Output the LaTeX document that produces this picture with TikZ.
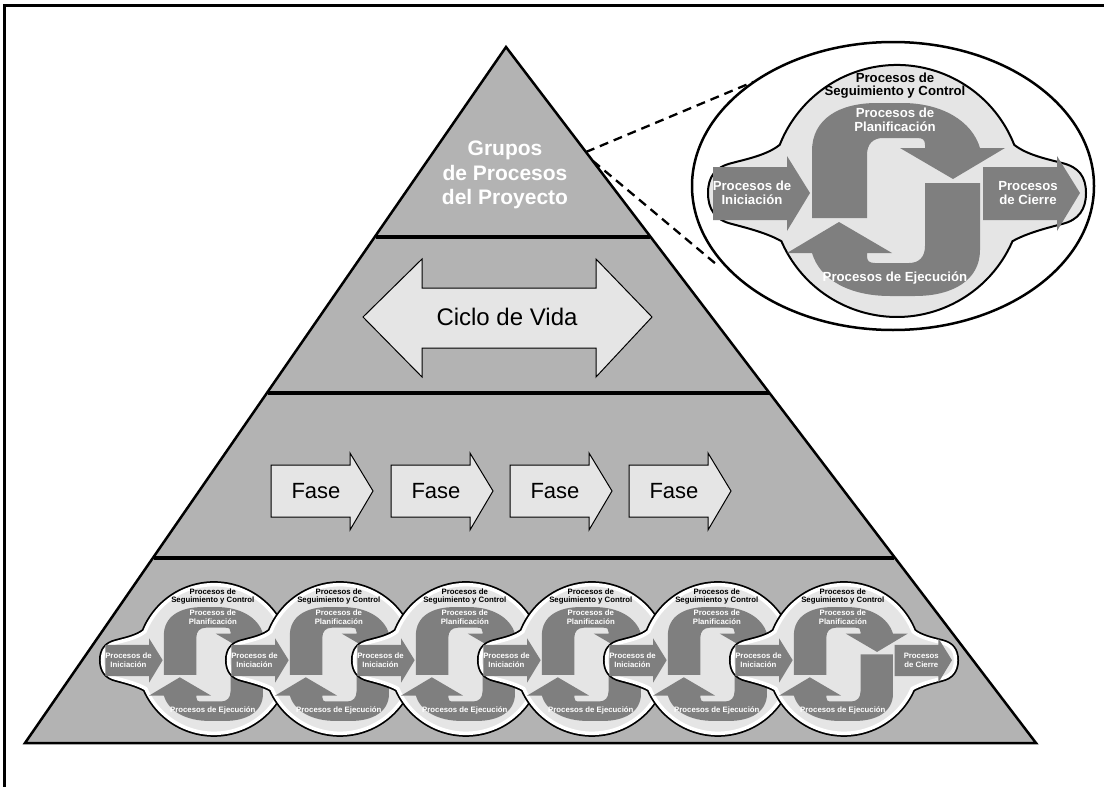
\documentclass[tikz,border=0pt]{standalone}
\usepackage{fontspec}
\setmainfont{Liberation Sans}
\definecolor{pyrgray}{RGB}{179,179,179}
\definecolor{litegray}{RGB}{229,229,229}
\definecolor{arrowgray}{RGB}{127,127,127}
\tikzset{
 pyr/.style={fill=pyrgray, draw=black, line width=2.5pt, line join=miter},
 bandline/.style={line width=4.5pt, draw=black},
 litearrow/.style={fill=litegray, draw=black, line width=1pt, line join=miter},
 toptext/.style={text=white, font=\bfseries\fontsize{21}{24.5}\selectfont, align=center, inner sep=0pt},
 bigtext/.style={font=\fontsize{24}{28}\selectfont, inner sep=0pt},
 fasetext/.style={font=\fontsize{22}{26}\selectfont, inner sep=0pt},
 segtext/.style={text=black, font=\bfseries\fontsize{13.2}{13.5}\selectfont, align=center, inner sep=0pt},
 whtext/.style={text=white, font=\bfseries\fontsize{13.2}{14.5}\selectfont, align=center, inner sep=0pt},
 dashline/.style={line width=2.3pt, dash pattern=on 9pt off 6pt},
 cyclearrow/.style={fill=arrowgray},
 framestyle/.style={line width=3pt, draw=black},
 zoomell/.style={fill=white, draw=black, line width=2.5pt},
}
\def\blobpath{(117.2,-46.2) arc[start angle=338.5, end angle=201.5, radius=126]
 .. controls (-130,-36) and (-150,-32) .. (-165,-28)
 .. controls (-182,-24) and (-189,-14) .. (-189,2)
 .. controls (-189,18) and (-182,29) .. (-165,33)
 .. controls (-150,37) and (-130,42) .. (-115.6,50.2)
 arc[start angle=156.5, end angle=23.5, radius=126]
 .. controls (130,42) and (150,37) .. (165,33)
 .. controls (182,29) and (189,18) .. (189,2)
 .. controls (189,-14) and (182,-24) .. (165,-28)
 .. controls (150,-32) and (130,-36) .. (117.2,-46.2) -- cycle}
\def\planpath{(-85,27) -- (-85,-40) .. controls (-85,-72) and (-58,-88) .. (-20,-88)
 -- (5,-88) .. controls (45,-88) and (75,-70) .. (83,-43) -- (108,-43) -- (56,-12)
 -- (3,-43) -- (28,-43) -- (28,-46) .. controls (28,-51) and (26,-53) .. (20,-53)
 -- (-14,-53) .. controls (-24,-53) and (-30,-47) .. (-30,-36) -- (-30,27) -- cycle}
\def\ejepath{(83,-8) -- (83,59) .. controls (83,89) and (56,105) .. (18,105)
 -- (-7,105) .. controls (-47,105) and (-77,89) .. (-85,62) -- (-110,62) -- (-58,31)
 -- (-5,62) -- (-30,62) -- (-30,65) .. controls (-30,70) and (-28,72) .. (-22,72)
 -- (12,72) .. controls (22,72) and (28,66) .. (28,55) -- (28,-8) -- cycle}
\def\inipath{(-184,-24) -- (-110,-24) -- (-110,-35) -- (-87,2) -- (-110,40) -- (-110,29) -- (-184,29) -- cycle}
\def\ciepath{(86,-24) -- (160,-24) -- (160,-35) -- (183,2) -- (160,40) -- (160,29) -- (86,29) -- cycle}
% #1 name prefix, #2 centre, #3 scale, #4 white ring (1/0), #5 closing arrow (1/0)
\newcommand\cyclegfx[5]{%
 \begin{scope}[shift={#2}, scale=#3, every node/.append style={transform shape}]
  \ifnum#4=1
   \draw[line width=7pt] \blobpath;
   \draw[line width=3.5pt, draw=white, fill=litegray] \blobpath;
  \else
   \draw[line width=2pt, fill=litegray] \blobpath;
  \fi
  \fill[cyclearrow] \planpath;
  \fill[cyclearrow] \ejepath;
  \fill[cyclearrow] \inipath;
  \ifnum#5=1
   \fill[cyclearrow] \ciepath;
   \node[whtext] (#1-cie) at (131,2) {Procesos\\de Cierre};
  \fi
  \node[segtext] (#1-seg) at (-2,-105.5) {Procesos de\\Seguimiento y Control};
  \node[whtext] (#1-plan) at (-2,-71) {Procesos de\\Planificación};
  \node[whtext] (#1-ini) at (-145,2) {Procesos de\\Iniciación};
  \node[whtext] (#1-eje) at (-2,87) {Procesos de Ejecución};
 \end{scope}}
\begin{document}
\begin{tikzpicture}[x=1pt,y=-1pt]
\useasboundingbox (0,0) rectangle (1104,787);
% frame
\draw[framestyle] (4,787) -- (4,5) -- (1104,5);
% pyramid
\coordinate (apex) at (506,47);
\coordinate (bl) at (25,743);
\coordinate (br) at (1036,743);
\draw[pyr] (apex) -- (br) -- (bl) -- cycle;
\coordinate (b1l) at (375.5,237); \coordinate (b1r) at (649.5,237);
\coordinate (b2l) at (267.5,393); \coordinate (b2r) at (768.5,393);
\coordinate (b3l) at (153.5,558); \coordinate (b3r) at (893.5,558);
\draw[bandline] (b1l) -- (b1r);
\draw[bandline] (b2l) -- (b2r);
\draw[bandline] (b3l) -- (b3r);
% top band
\node[toptext] (grupos) at (505,175) {Grupos\\de Procesos\\del Proyecto};
% life cycle double arrow
\draw[litearrow] (363,317) -- (422,259) -- (422,288) -- (596,288) -- (596,259) -- (652,317)
 -- (596,377) -- (596,348) -- (422,348) -- (422,377) -- cycle;
\node[bigtext] (ciclo) at (507,317) {Ciclo de Vida};
% phases
\foreach \L [count=\i] in {271,391,510,629}{
 \draw[litearrow] (\L,465) -- (\L+79,465) -- (\L+79,453) -- (\L+102,491) -- (\L+79,530)
  -- (\L+79,517) -- (\L,517) -- cycle;
 \node[fasetext] (fase\i) at (\L+45,491) {Fase};
}
% small process cycles
\cyclegfx{c1}{(214,659)}{0.59}{1}{0}
\cyclegfx{c2}{(340,659)}{0.59}{1}{0}
\cyclegfx{c3}{(466,659)}{0.59}{1}{0}
\cyclegfx{c4}{(592,659)}{0.59}{1}{0}
\cyclegfx{c5}{(718,659)}{0.59}{1}{0}
\cyclegfx{c6}{(844,659)}{0.59}{1}{1}
% zoom ellipse
\draw[zoomell] (893,186) ellipse [x radius=201, y radius=144];
\coordinate (dz1) at (586,152);
\coordinate (dz2) at (593,161);
\coordinate (ez1) at (753,82);
\coordinate (ez2) at (716,264);
\draw[dashline] (dz1) -- (ez1);
\draw[dashline] (dz2) -- (ez2);
\cyclegfx{big}{(897,191)}{1}{0}{1}
\end{tikzpicture}
\end{document}
